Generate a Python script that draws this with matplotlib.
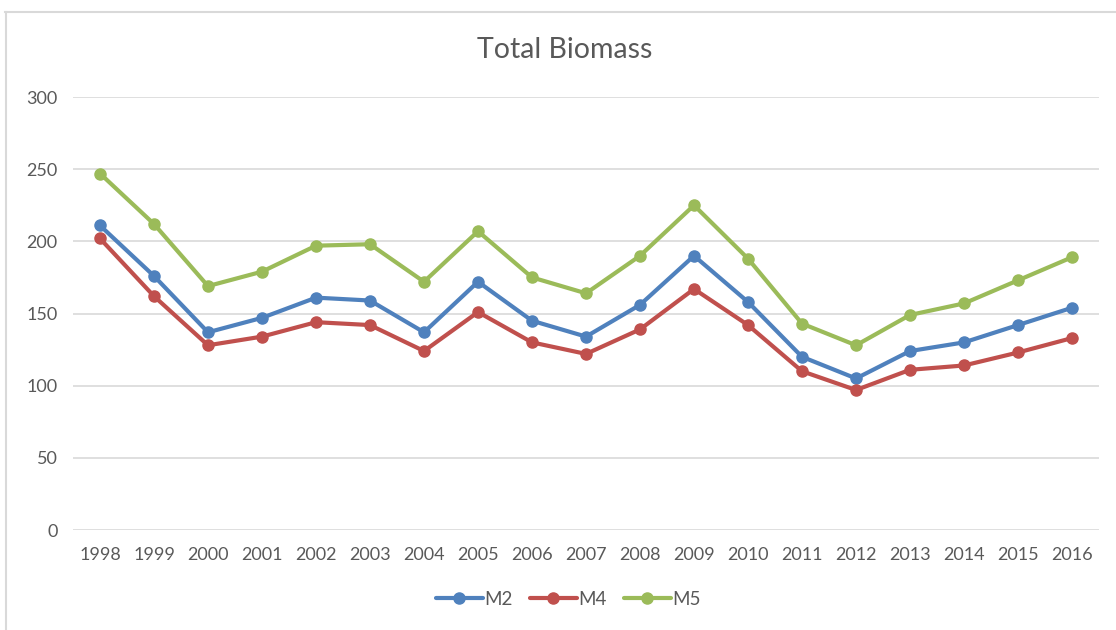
import matplotlib.pyplot as plt
from matplotlib.lines import Line2D

years = [str(y) for y in range(1998, 2017)]
m2 = [211, 176, 137, 147, 161, 159, 137, 172, 145, 134, 156, 190, 158, 120, 105, 124, 130, 142, 154]
m4 = [202, 162, 128, 134, 144, 142, 124, 151, 130, 122, 139, 167, 142, 110, 97, 111, 114, 123, 133]
m5 = [247, 212, 169, 179, 197, 198, 172, 207, 175, 164, 190, 225, 188, 143, 128, 149, 157, 173, 189]
series = [('M2', m2, '#4f81bd'), ('M4', m4, '#c0504d'), ('M5', m5, '#9bbb59')]

plt.rcParams['font.family'] = ['Lato', 'DejaVu Sans']

fig = plt.figure(figsize=(11.16, 6.3), dpi=100)
ax = fig.add_axes([0.0654, 0.1587, 0.9194, 0.6873])

x = list(range(len(years)))
for name, vals, col in series:
  ax.plot(x, vals, color=col, lw=3, marker='o', ms=8, label=name,
          solid_capstyle='round')

ax.set_xlim(-0.5, len(years) - 0.5)
ax.set_ylim(0, 300)
ax.set_yticks(range(0, 301, 50))
ax.set_xticks(x)
ax.set_xticklabels(years)
ax.grid(axis='y', color='#d9d9d9', lw=1.2)
ax.set_axisbelow(True)
for s in ax.spines.values():
  s.set_visible(False)
ax.tick_params(length=0, labelsize=13, colors='#595959')
ax.tick_params(axis='x', pad=12)
ax.tick_params(axis='y', pad=11)

fig.text(0.506, 0.921, 'Total Biomass', ha='center', va='center',
         fontsize=20.5, color='#595959')

ax.legend(loc='center', bbox_to_anchor=(0.483, -0.16), ncol=3, frameon=False,
          fontsize=13.5, handlelength=2.5, handletextpad=0.1, columnspacing=0.9,
          labelcolor='#595959')

# chart frame (top and left edges visible in the crop)
fig.add_artist(Line2D([0.0045, 1.0], [0.981, 0.981], color='#d9d9d9', lw=1.5,
                      transform=fig.transFigure))
fig.add_artist(Line2D([0.0054, 0.0054], [0.0, 0.981], color='#d9d9d9', lw=1.5,
                      transform=fig.transFigure))

fig.savefig('out.png', dpi=100, facecolor='white')
